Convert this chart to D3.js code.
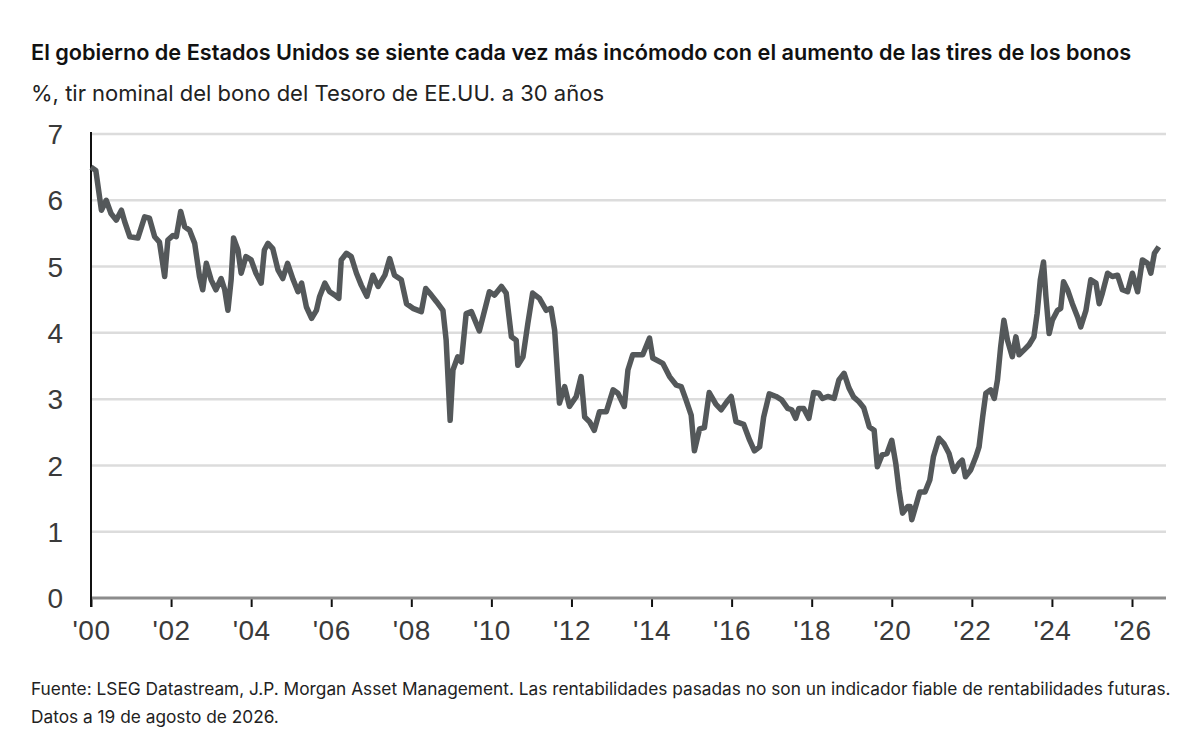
<!DOCTYPE html>
<html>
<head>
<meta charset="utf-8">
<script src="https://cdn.jsdelivr.net/npm/d3@7"></script>
<style>
  body { margin: 0; background: #fff; }
  svg text { font-family: Inter, "Noto Sans", sans-serif; }
</style>
</head>
<body>
<div id="chart"></div>
<script>
// decimal year of each reading
var dates = [
  2000.0, 2000.05, 2000.12, 2000.26, 2000.38, 2000.5, 2000.63, 2000.76, 2000.84, 2000.97,
  2001.17, 2001.34, 2001.46, 2001.59, 2001.71, 2001.84, 2001.92, 2002.05, 2002.13, 2002.24,
  2002.34, 2002.46, 2002.59, 2002.71, 2002.79, 2002.88, 2003.0, 2003.12, 2003.25, 2003.34,
  2003.42, 2003.5, 2003.56, 2003.67, 2003.75, 2003.87, 2004.0, 2004.12, 2004.25, 2004.33,
  2004.42, 2004.54, 2004.67, 2004.79, 2004.91, 2005.05, 2005.17, 2005.26, 2005.38, 2005.51,
  2005.63, 2005.71, 2005.84, 2005.96, 2006.09, 2006.19, 2006.25, 2006.38, 2006.5, 2006.63,
  2006.75, 2006.89, 2007.04, 2007.17, 2007.34, 2007.46, 2007.58, 2007.75, 2007.88, 2008.04,
  2008.25, 2008.36, 2008.5, 2008.63, 2008.79, 2008.87, 2008.97, 2009.04, 2009.16, 2009.25,
  2009.37, 2009.5, 2009.7, 2009.95, 2010.08, 2010.25, 2010.37, 2010.5, 2010.62, 2010.66,
  2010.79, 2010.91, 2011.03, 2011.2, 2011.37, 2011.49, 2011.58, 2011.7, 2011.83, 2011.95,
  2012.12, 2012.24, 2012.33, 2012.45, 2012.57, 2012.7, 2012.87, 2013.04, 2013.16, 2013.32,
  2013.41, 2013.53, 2013.78, 2013.95, 2014.03, 2014.28, 2014.45, 2014.62, 2014.74, 2014.86,
  2014.99, 2015.07, 2015.2, 2015.32, 2015.44, 2015.61, 2015.74, 2015.88, 2015.99, 2016.11,
  2016.3, 2016.45, 2016.57, 2016.7, 2016.8, 2016.94, 2017.11, 2017.25, 2017.4, 2017.5,
  2017.6, 2017.68, 2017.8, 2017.93, 2018.05, 2018.18, 2018.27, 2018.4, 2018.56, 2018.68,
  2018.81, 2018.93, 2019.05, 2019.18, 2019.3, 2019.44, 2019.56, 2019.64, 2019.76, 2019.88,
  2020.0, 2020.1, 2020.18, 2020.27, 2020.4, 2020.46, 2020.5, 2020.62, 2020.7, 2020.83,
  2020.95, 2021.04, 2021.18, 2021.3, 2021.43, 2021.55, 2021.68, 2021.76, 2021.84, 2021.97,
  2022.1, 2022.18, 2022.27, 2022.35, 2022.47, 2022.56, 2022.64, 2022.72, 2022.8, 2022.89,
  2023.01, 2023.1, 2023.18, 2023.3, 2023.43, 2023.55, 2023.63, 2023.71, 2023.79, 2023.85,
  2023.93, 2024.01, 2024.14, 2024.22, 2024.29, 2024.39, 2024.51, 2024.64, 2024.72, 2024.85,
  2024.97, 2025.1, 2025.18, 2025.26, 2025.39, 2025.51, 2025.64, 2025.76, 2025.89, 2026.01,
  2026.14, 2026.26, 2026.39, 2026.47, 2026.56, 2026.67
];

// 30-year yield, %
var yields = [
  6.50, 6.48, 6.45, 5.85, 6.00, 5.80, 5.70, 5.85, 5.68, 5.45,
  5.43, 5.75, 5.73, 5.45, 5.37, 4.85, 5.40, 5.47, 5.45, 5.83,
  5.60, 5.55, 5.35, 4.85, 4.65, 5.05, 4.80, 4.65, 4.82, 4.65,
  4.34, 4.80, 5.43, 5.25, 4.90, 5.15, 5.10, 4.90, 4.75, 5.25,
  5.35, 5.27, 4.95, 4.82, 5.05, 4.80, 4.62, 4.75, 4.39, 4.22,
  4.34, 4.55, 4.75, 4.62, 4.57, 4.52, 5.10, 5.20, 5.15, 4.90,
  4.72, 4.55, 4.87, 4.70, 4.87, 5.12, 4.87, 4.80, 4.44, 4.37,
  4.32, 4.67, 4.57, 4.47, 4.34, 3.89, 2.68, 3.44, 3.64, 3.56,
  4.29, 4.32, 4.03, 4.62, 4.57, 4.70, 4.60, 3.94, 3.89, 3.51,
  3.64, 4.14, 4.60, 4.52, 4.34, 4.37, 4.04, 2.94, 3.19, 2.89,
  3.04, 3.34, 2.73, 2.66, 2.53, 2.81, 2.81, 3.14, 3.09, 2.89,
  3.44, 3.67, 3.67, 3.92, 3.62, 3.54, 3.34, 3.21, 3.19, 2.99,
  2.76, 2.22, 2.55, 2.57, 3.10, 2.92, 2.84, 2.96, 3.04, 2.66,
  2.62, 2.38, 2.22, 2.28, 2.73, 3.08, 3.04, 2.99, 2.86, 2.84,
  2.71, 2.86, 2.86, 2.71, 3.10, 3.09, 3.01, 3.04, 3.01, 3.29,
  3.39, 3.17, 3.03, 2.96, 2.87, 2.58, 2.53, 1.98, 2.16, 2.18,
  2.38, 2.03, 1.63, 1.28, 1.38, 1.38, 1.18, 1.43, 1.60, 1.60,
  1.78, 2.13, 2.41, 2.33, 2.18, 1.91, 2.03, 2.08, 1.83, 1.93,
  2.13, 2.28, 2.73, 3.09, 3.14, 3.01, 3.29, 3.79, 4.19, 3.89,
  3.64, 3.94, 3.67, 3.74, 3.82, 3.94, 4.29, 4.80, 5.07, 4.55,
  3.99, 4.19, 4.34, 4.37, 4.77, 4.65, 4.44, 4.24, 4.09, 4.34,
  4.80, 4.75, 4.44, 4.60, 4.90, 4.85, 4.87, 4.65, 4.62, 4.90,
  4.62, 5.10, 5.05, 4.90, 5.20, 5.30
];

var yearTicks = [2000, 2002, 2004, 2006, 2008, 2010, 2012, 2014, 2016, 2018, 2020, 2022, 2024, 2026];
var yTicks = [0, 1, 2, 3, 4, 5, 6, 7];

var title = "El gobierno de Estados Unidos se siente cada vez más incómodo con el aumento de las tires de los bonos";
var subtitle = "%, tir nominal del bono del Tesoro de EE.UU. a 30 años";
var source = "Fuente: LSEG Datastream, J.P. Morgan Asset Management. Las rentabilidades pasadas no son un indicador fiable de rentabilidades futuras.";
var asOf = "Datos a 19 de agosto de 2026.";

function init() {
    var w = 1200, h = 751;
    var left = 91, right = 1166, top = 134, bottom = 598;

    var svg = d3.select("#chart").append("svg")
        .attr("width", w)
        .attr("height", h);

    var x = d3.scaleLinear()
        .domain([2000, 2026])
        .range([left, 1132]);

    var y = d3.scaleLinear()
        .domain([0, 7])
        .range([bottom, top]);

    // titles
    svg.append("text")
        .attr("x", 31).attr("y", 60)
        .attr("font-size", 21.7).attr("font-weight", 600)
        .attr("fill", "#111")
        .text(title);
    svg.append("text")
        .attr("x", 31).attr("y", 101)
        .attr("font-size", 22)
        .attr("fill", "#222")
        .text(subtitle);

    // gridlines
    svg.append("g")
        .selectAll("line")
        .data(yTicks.filter(function (d) { return d > 0; }))
        .enter().append("line")
        .attr("x1", left).attr("x2", right)
        .attr("y1", function (d) { return y(d); })
        .attr("y2", function (d) { return y(d); })
        .attr("stroke", "#dcdcdc")
        .attr("stroke-width", 2.5);

    // y labels
    svg.append("g")
        .selectAll("text")
        .data(yTicks)
        .enter().append("text")
        .attr("x", 63)
        .attr("y", function (d) { return y(d); })
        .attr("dy", "0.36em")
        .attr("text-anchor", "end")
        .attr("font-size", 28)
        .attr("fill", "#3a3a3a")
        .style("font-family", "'Liberation Sans', Arial, sans-serif")
        .text(function (d) { return d; });

    // x axis
    var xAxis = d3.axisBottom(x)
        .tickValues(yearTicks)
        .tickSize(9)
        .tickFormat(function (d) { return "'" + String(d).slice(2); });

    var gx = svg.append("g")
        .attr("transform", "translate(0," + bottom + ")")
        .call(xAxis);
    gx.select(".domain").remove();
    gx.selectAll(".tick line")
        .attr("stroke", "#111")
        .attr("stroke-width", 2);
    gx.selectAll(".tick text")
        .attr("y", 22)
        .attr("dy", "0.71em")
        .attr("font-size", 28)
        .attr("fill", "#3a3a3a")
        .attr("letter-spacing", 0.5)
        .style("font-family", "'Liberation Sans', Arial, sans-serif");

    svg.append("line")
        .attr("x1", left).attr("x2", right)
        .attr("y1", bottom).attr("y2", bottom)
        .attr("stroke", "#8c8c8c")
        .attr("stroke-width", 3);

    // y axis line
    svg.append("line")
        .attr("x1", left).attr("x2", left)
        .attr("y1", top - 2).attr("y2", bottom + 9)
        .attr("stroke", "#111")
        .attr("stroke-width", 2);

    // the yield line
    var line = d3.line()
        .x(function (d, i) { return x(dates[i]); })
        .y(function (d) { return y(d); });

    svg.append("path")
        .datum(yields)
        .attr("d", line)
        .attr("fill", "none")
        .attr("stroke", "#54585a")
        .attr("stroke-width", 5.5)
        .attr("stroke-linejoin", "round");

    // footer
    svg.append("text")
        .attr("x", 31).attr("y", 695)
        .attr("font-size", 17.3)
        .attr("fill", "#222")
        .text(source);
    svg.append("text")
        .attr("x", 31).attr("y", 723)
        .attr("font-size", 17.3)
        .attr("fill", "#222")
        .text(asOf);
}

window.onload = init;
</script>
</body>
</html>
